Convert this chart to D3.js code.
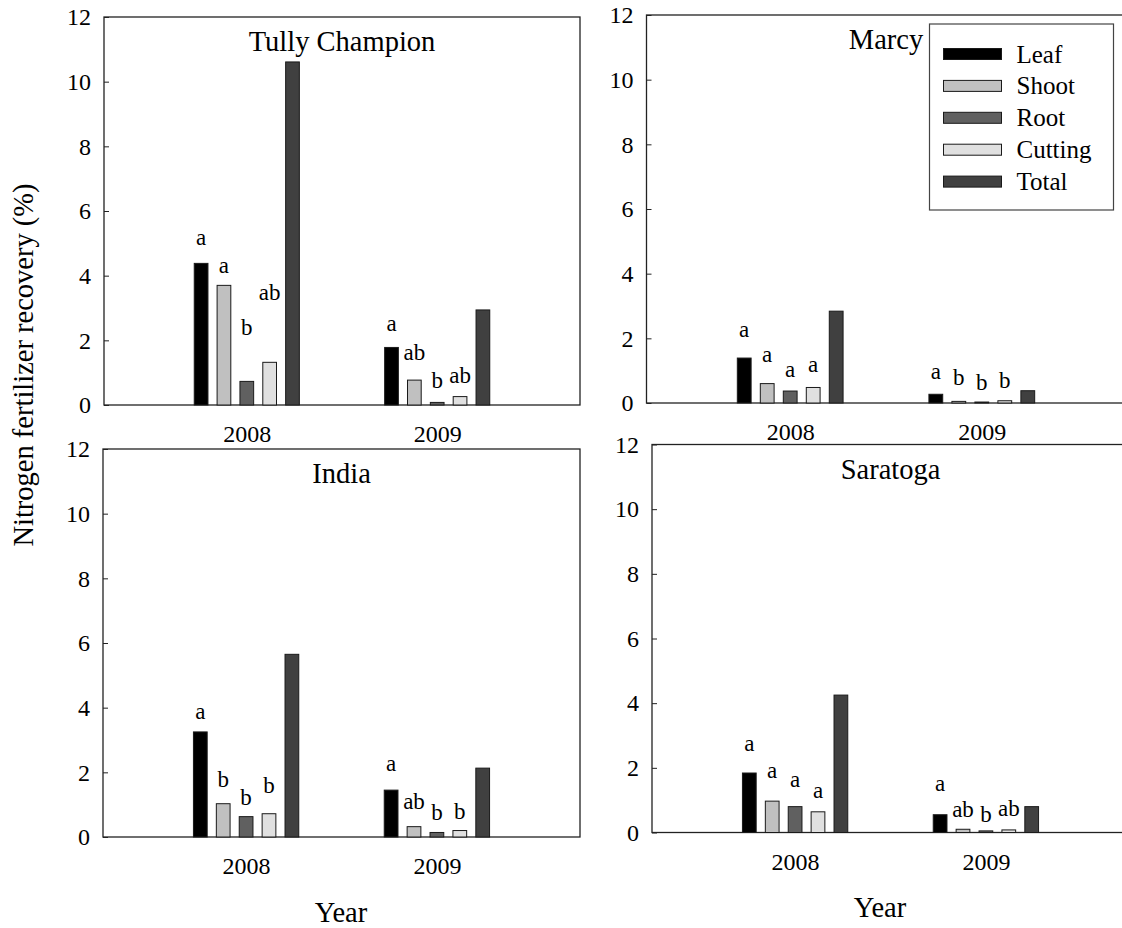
<!DOCTYPE html>
<meta charset="utf-8">
<style>
  body { margin: 0; background: #fff; }
  svg text { font-family: "Liberation Serif", "Times New Roman", serif; fill: #000; }
</style>
<svg width="1122" height="928"></svg>
<script src="https://d3js.org/d3.v7.min.js"></script>
<script>
  var years = ["2008", "2009"];
  var parts = ["Leaf", "Shoot", "Root", "Cutting", "Total"];
  var colors = ["#000000", "#c0c0c0", "#606060", "#e0e0e0", "#404040"];
  var yTicks = [0, 2, 4, 6, 8, 10, 12];
  var serif = "'Liberation Serif', 'Times New Roman', serif";

  // N fertilizer recovery (%), one row per year, columns in the order of parts
  var tullyValues = [[4.38, 3.70, 0.73, 1.32, 10.61], [1.78, 0.77, 0.08, 0.26, 2.94]];
  var marcyValues = [[1.39, 0.60, 0.37, 0.48, 2.84], [0.27, 0.05, 0.03, 0.07, 0.38]];
  var indiaValues = [[3.25, 1.03, 0.63, 0.72, 5.65], [1.45, 0.32, 0.14, 0.20, 2.13]];
  var saratogaValues = [[1.84, 0.97, 0.80, 0.64, 4.25], [0.55, 0.10, 0.05, 0.08, 0.80]];

  // significance letters, and the level (%) each one sits at
  var tullyLetters = [["a", "a", "b", "ab", ""], ["a", "ab", "b", "ab", ""]];
  var tullyLetterAt = [[4.95, 4.09, 2.17, 3.25, 0], [2.30, 1.39, 0.52, 0.69, 0]];
  var marcyLetters = [["a", "a", "a", "a", ""], ["a", "b", "b", "b", ""]];
  var marcyLetterAt = [[2.03, 1.27, 0.80, 0.96, 0], [0.75, 0.55, 0.39, 0.45, 0]];
  var indiaLetters = [["a", "b", "b", "b", ""], ["a", "ab", "b", "b", ""]];
  var indiaLetterAt = [[3.65, 1.54, 0.99, 1.35, 0], [2.05, 0.88, 0.52, 0.57, 0]];
  var saratogaLetters = [["a", "a", "a", "a", ""], ["a", "ab", "b", "ab", ""]];
  var saratogaLetterAt = [[2.52, 1.68, 1.42, 1.06, 0], [1.29, 0.49, 0.33, 0.52, 0]];

  var panels = [
    { title: "Tully Champion", values: tullyValues, letters: tullyLetters, at: tullyLetterAt, x: 104, y: 17, w: 476 },
    { title: "Marcy", values: marcyValues, letters: marcyLetters, at: marcyLetterAt, x: 646.5, y: 15, w: 479, legend: true },
    { title: "India", values: indiaValues, letters: indiaLetters, at: indiaLetterAt, x: 103, y: 449, w: 477, yearLabel: [238, 473] },
    { title: "Saratoga", values: saratogaValues, letters: saratogaLetters, at: saratogaLetterAt, x: 652, y: 444.5, w: 477, yearLabel: [228, 472] }
  ];
  var h = 388;

  var svg = d3.select("svg");
  var color = d3.scaleOrdinal().domain(parts).range(colors);

  panels.forEach(function(p) {
    var g = svg.append("g").attr("transform", "translate(" + p.x + "," + p.y + ")");

    var x = d3.scalePoint().domain(years).range([0, p.w]).padding(0.75);
    var xi = d3.scaleBand().domain(parts)
      .range([-0.12 * p.w, 0.12 * p.w])
      .paddingInner(0.4).paddingOuter(0.2);
    var y = d3.scaleLinear().domain([0, 12]).range([h, 0]);

    var rows = [];
    years.forEach(function(yr, i) {
      parts.forEach(function(pt, j) {
        rows.push({ year: yr, part: pt, v: p.values[i][j], letter: p.letters[i][j], at: p.at[i][j] });
      });
    });

    g.append("rect")
      .attr("width", p.w).attr("height", h)
      .attr("fill", "none").attr("stroke", "#222").attr("stroke-width", 1.3);

    var ya = g.append("g")
      .call(d3.axisLeft(y).tickValues(yTicks).tickSizeInner(-5).tickSizeOuter(0).tickPadding(13))
      .attr("font-size", 24)
      .attr("font-family", serif);
    ya.select(".domain").remove();
    ya.selectAll("line").attr("stroke", "#222");

    var xa = g.append("g")
      .attr("transform", "translate(0," + h + ")")
      .call(d3.axisBottom(x).tickSize(0).tickPadding(20))
      .attr("font-size", 24)
      .attr("font-family", serif);
    xa.select(".domain").remove();

    g.selectAll(".bar")
      .data(rows)
      .enter().append("rect")
      .attr("class", "bar")
      .attr("x", function(d) { return x(d.year) + xi(d.part); })
      .attr("width", xi.bandwidth())
      .attr("y", function(d) { return y(d.v); })
      .attr("height", function(d) { return h - y(d.v); })
      .attr("fill", function(d) { return color(d.part); })
      .attr("stroke", "#1a1a1a")
      .attr("stroke-width", 1);

    g.selectAll(".letter")
      .data(rows.filter(function(d) { return d.letter; }))
      .enter().append("text")
      .attr("class", "letter")
      .attr("x", function(d) { return x(d.year) + xi(d.part) + xi.bandwidth() / 2; })
      .attr("y", function(d) { return y(d.at); })
      .attr("text-anchor", "middle")
      .attr("font-family", serif)
      .attr("font-size", 23)
      .text(function(d) { return d.letter; });

    g.append("text")
      .attr("x", p.w / 2)
      .attr("y", 34)
      .attr("text-anchor", "middle")
      .attr("font-family", serif)
      .attr("font-size", 28.5)
      .text(p.title);

    if (p.yearLabel) {
      g.append("text")
        .attr("x", p.yearLabel[0])
        .attr("y", p.yearLabel[1])
        .attr("text-anchor", "middle")
        .attr("font-family", serif)
        .attr("font-size", 28.5)
        .text("Year");
    }

    if (p.legend) {
      var lg = g.append("g").attr("transform", "translate(283,9)");
      lg.append("rect")
        .attr("width", 184).attr("height", 186)
        .attr("fill", "#fff").attr("stroke", "#444").attr("stroke-width", 1.2);
      var item = lg.selectAll(".item")
        .data(parts)
        .enter().append("g")
        .attr("class", "item")
        .attr("transform", function(d, i) { return "translate(14," + (30 + i * 31.9) + ")"; });
      item.append("rect")
        .attr("y", -5.5).attr("width", 58).attr("height", 11)
        .attr("fill", function(d) { return color(d); })
        .attr("stroke", "#1a1a1a").attr("stroke-width", 1);
      item.append("text")
        .attr("x", 73).attr("y", 8.5)
        .attr("font-family", serif)
        .attr("font-size", 25)
        .text(function(d) { return d; });
    }
  });

  svg.append("text")
    .attr("transform", "translate(33,365) rotate(-90)")
    .attr("text-anchor", "middle")
    .attr("font-family", serif)
    .attr("font-size", 28.5)
    .text("Nitrogen fertilizer recovery (%)");
</script>
